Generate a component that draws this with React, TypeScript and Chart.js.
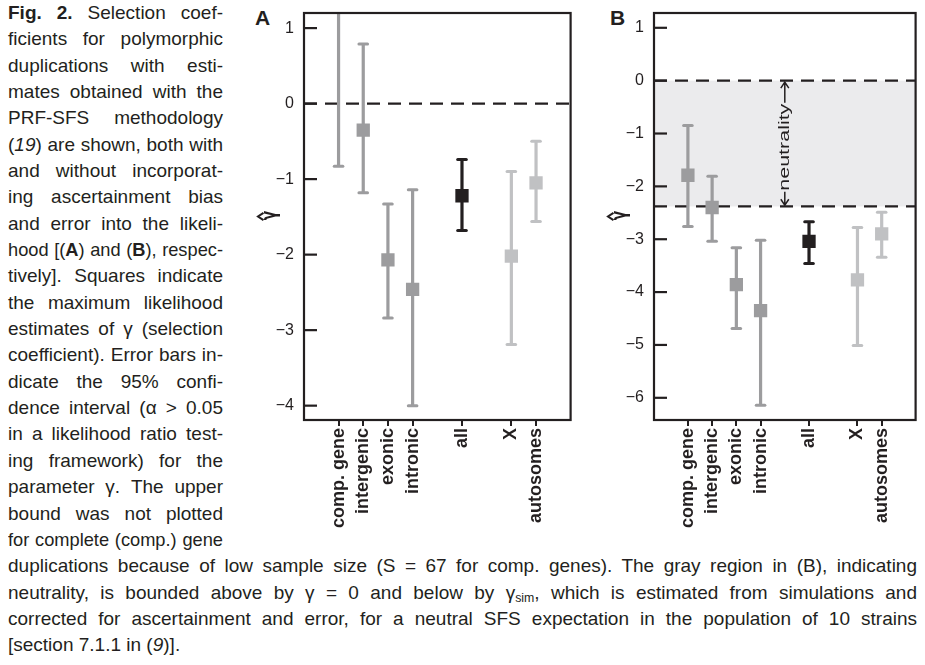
import React, { useEffect, useLayoutEffect, useRef } from 'react';
import { Chart, registerables } from 'chart.js';

Chart.register(...registerables);

// ---------- chart data ----------
const categories = ['comp. gene', 'intergenic', 'exonic', 'intronic', 'all', 'X', 'autosomes'];
const xPositions = [1, 2, 3, 4, 6, 8, 9];
const groupColors = ['#9c9c9e', '#9c9c9e', '#9c9c9e', '#9c9c9e', '#231f20', '#c0c1c3', '#c0c1c3'];

// Panel A (without ascertainment bias / error)
const estimateA: (number | null)[] = [null, -0.35, -2.07, -2.46, -1.22, -2.02, -1.05];
const lowerA = [-0.83, -1.18, -2.84, -4.0, -1.68, -3.19, -1.56];
const upperA: (number | null)[] = [null, 0.79, -1.33, -1.14, -0.74, -0.9, -0.5];
const yTicksA = [1, 0, -1, -2, -3, -4];
const yRangeA = [-4.19, 1.2];

// Panel B (with ascertainment bias / error)
const estimateB: (number | null)[] = [-1.79, -2.4, -3.86, -4.35, -3.04, -3.77, -2.9];
const lowerB = [-2.76, -3.04, -4.69, -6.14, -3.46, -5.01, -3.34];
const upperB: (number | null)[] = [-0.85, -1.81, -3.16, -3.02, -2.67, -2.78, -2.49];
const yTicksB = [1, 0, -1, -2, -3, -4, -5, -6];
const yRangeB = [-6.42, 1.28];
const gammaSim = -2.38;
const neutralityX = 5;

const xRange = [-0.4, 10.4];

const FONT = "'Liberation Sans', Arial, Helvetica, sans-serif";
const INK = '#231f20';

// ---------- caption ----------
type CapLine = { node: React.ReactNode; w: number; justify: boolean };
const LEFT_W = 215;
const FULL_W = 909;
const captionLines: CapLine[] = [
  { node: <><b>Fig. 2.</b> Selection coef-</>, w: LEFT_W, justify: true },
  { node: <>ficients for polymorphic</>, w: LEFT_W, justify: true },
  { node: <>duplications with esti-</>, w: LEFT_W, justify: true },
  { node: <>mates obtained with the</>, w: LEFT_W, justify: true },
  { node: <>PRF-SFS methodology</>, w: LEFT_W, justify: true },
  { node: <>(<i>19</i>) are shown, both with</>, w: LEFT_W, justify: true },
  { node: <>and without incorporat-</>, w: LEFT_W, justify: true },
  { node: <>ing ascertainment bias</>, w: LEFT_W, justify: true },
  { node: <>and error into the likeli-</>, w: LEFT_W, justify: true },
  { node: <>hood [(<b>A</b>) and (<b>B</b>), respec-</>, w: LEFT_W, justify: true },
  { node: <>tively]. Squares indicate</>, w: LEFT_W, justify: true },
  { node: <>the maximum likelihood</>, w: LEFT_W, justify: true },
  { node: <>estimates of γ (selection</>, w: LEFT_W, justify: true },
  { node: <>coefficient). Error bars in-</>, w: LEFT_W, justify: true },
  { node: <>dicate the 95% confi-</>, w: LEFT_W, justify: true },
  { node: <>dence interval (α &gt; 0.05</>, w: LEFT_W, justify: true },
  { node: <>in a likelihood ratio test-</>, w: LEFT_W, justify: true },
  { node: <>ing framework) for the</>, w: LEFT_W, justify: true },
  { node: <>parameter γ. The upper</>, w: LEFT_W, justify: true },
  { node: <>bound was not plotted</>, w: LEFT_W, justify: true },
  { node: <>for complete (comp.) gene</>, w: LEFT_W, justify: true },
  { node: <>duplications because of low sample size (S = 67 for comp. genes). The gray region in (B), indicating</>, w: FULL_W, justify: true },
  { node: <>neutrality, is bounded above by γ = 0 and below by γ<sub style={{ fontSize: '0.65em', verticalAlign: '-0.25em', lineHeight: 0 }}>sim</sub>, which is estimated from simulations and</>, w: FULL_W, justify: true },
  { node: <>corrected for ascertainment and error, for a neutral SFS expectation in the population of 10 strains</>, w: FULL_W, justify: true },
  { node: <>[section 7.1.1 in (<i>9</i>)].</>, w: FULL_W, justify: false },
];
const LINE_H = 26.35;

function Caption() {
  const refs = useRef<(HTMLDivElement | null)[]>([]);
  useLayoutEffect(() => {
    refs.current.forEach((el, i) => {
      if (!el) return;
      const spec = captionLines[i];
      el.style.transform = 'none';
      el.style.width = 'auto';
      el.style.display = 'inline-block';
      el.style.whiteSpace = 'nowrap';
      const nat = el.getBoundingClientRect().width;
      el.style.display = 'block';
      if (nat > spec.w) {
        el.style.width = nat + 2 + 'px';
        el.style.transform = `scaleX(${spec.w / (nat + 2)})`;
      } else {
        el.style.width = spec.w + 'px';
      }
      el.style.whiteSpace = 'normal';
    });
  }, []);
  return (
    <>
      {captionLines.map((l, i) => (
        <div
          key={i}
          ref={(el) => {
            refs.current[i] = el;
          }}
          style={{
            position: 'absolute',
            left: 8,
            top: -0.15 + LINE_H * i,
            height: LINE_H,
            lineHeight: LINE_H + 'px',
            fontFamily: FONT,
            fontSize: 19,
            color: INK,
            textAlign: l.justify ? 'justify' : 'left',
            textAlignLast: l.justify ? 'justify' : 'auto',
            transformOrigin: 'left top',
            whiteSpace: 'nowrap',
          }}
        >
          {l.node}
        </div>
      ))}
    </>
  );
}

// ---------- panel ----------
type PanelProps = {
  left: number;
  width: number;
  height: number;
  yWidth: number;
  padRight: number;
  estimate: (number | null)[];
  lower: number[];
  upper: (number | null)[];
  yTicks: number[];
  yRange: number[];
  dashes: number[];
  band: boolean;
};

const AREA_TOP = 13;
const AREA_BOTTOM = 420;

function makePlugin(p: PanelProps) {
  return {
    id: 'panelDeco',
    beforeDatasetsDraw(chart: any) {
      const { ctx, chartArea: ca, scales } = chart;
      const x = scales.x;
      const y = scales.y;
      ctx.save();
      ctx.beginPath();
      ctx.rect(ca.left, ca.top, ca.right - ca.left, ca.bottom - ca.top);
      ctx.clip();
      if (p.band) {
        const y0 = y.getPixelForValue(0);
        const y1 = y.getPixelForValue(gammaSim);
        ctx.fillStyle = '#ebebed';
        ctx.fillRect(ca.left, y0, ca.right - ca.left, y1 - y0);
      }
      ctx.strokeStyle = INK;
      ctx.lineWidth = 2.2;
      ctx.setLineDash([13, 8]);
      p.dashes.forEach((v) => {
        const yy = y.getPixelForValue(v);
        ctx.beginPath();
        ctx.moveTo(ca.left, yy);
        ctx.lineTo(ca.right, yy);
        ctx.stroke();
      });
      ctx.setLineDash([]);
      // error bars
      xPositions.forEach((xv, i) => {
        const xp = x.getPixelForValue(xv);
        const hi = p.upper[i];
        const top = hi === null ? ca.top : y.getPixelForValue(hi);
        const bot = y.getPixelForValue(p.lower[i]);
        ctx.strokeStyle = groupColors[i];
        ctx.lineWidth = 3.2;
        ctx.lineCap = 'butt';
        ctx.beginPath();
        ctx.moveTo(xp, top);
        ctx.lineTo(xp, bot);
        ctx.stroke();
        ctx.lineCap = 'round';
        ctx.lineWidth = 3;
        const caps = hi === null ? [bot] : [top, bot];
        caps.forEach((cy) => {
          ctx.beginPath();
          ctx.moveTo(xp - 4.3, cy);
          ctx.lineTo(xp + 4.3, cy);
          ctx.stroke();
        });
      });
      ctx.restore();
    },
    afterDraw(chart: any) {
      const { ctx, chartArea: ca, scales } = chart;
      const x = scales.x;
      const y = scales.y;
      ctx.save();
      ctx.strokeStyle = INK;
      ctx.lineWidth = 2.2;
      ctx.lineCap = 'butt';
      ctx.strokeRect(ca.left, ca.top, ca.right - ca.left, ca.bottom - ca.top);
      // inward y ticks
      p.yTicks.forEach((v) => {
        const yy = y.getPixelForValue(v);
        ctx.beginPath();
        ctx.moveTo(ca.left, yy);
        ctx.lineTo(ca.left + 13, yy);
        ctx.stroke();
      });
      // y title: gamma-hat, rotated
      const yc = (ca.top + ca.bottom) / 2;
      ctx.fillStyle = INK;
      ctx.save();
      ctx.translate(ca.left - 33, yc - 1);
      ctx.rotate(-Math.PI / 2);
      ctx.scale(1, 1.45);
      ctx.font = "bold 14px 'DejaVu Sans', sans-serif";
      ctx.textAlign = 'center';
      ctx.textBaseline = 'middle';
      ctx.fillText('\u03B3', 0, 0);
      ctx.restore();
      ctx.lineWidth = 2;
      ctx.lineJoin = 'miter';
      ctx.beginPath();
      ctx.moveTo(ca.left - 40.5, yc - 3.6);
      ctx.lineTo(ca.left - 46, yc);
      ctx.lineTo(ca.left - 40.5, yc + 3.6);
      ctx.stroke();
      // neutrality annotation
      if (p.band) {
        const xp = x.getPixelForValue(neutralityX);
        const y0 = y.getPixelForValue(0) + 1.5;
        const y1 = y.getPixelForValue(gammaSim) - 1.2;
        ctx.font = `14px ${FONT}`;
        const w = ctx.measureText('neutrality').width;
        const len = 87;
        const tTop = y0 + 21.5;
        const tBot = tTop + len;
        ctx.save();
        ctx.translate(xp + 0.5, (tTop + tBot) / 2);
        ctx.rotate(-Math.PI / 2);
        ctx.scale(len / w, 1);
        ctx.textAlign = 'center';
        ctx.textBaseline = 'middle';
        ctx.fillText('neutrality', 0, 0);
        ctx.restore();
        ctx.lineWidth = 1.5;
        ctx.beginPath();
        ctx.moveTo(xp, tTop - 1);
        ctx.lineTo(xp, y0);
        ctx.moveTo(xp - 4, y0 + 6);
        ctx.lineTo(xp, y0);
        ctx.lineTo(xp + 4, y0 + 6);
        ctx.moveTo(xp, tBot + 1);
        ctx.lineTo(xp, y1);
        ctx.moveTo(xp - 4, y1 - 6);
        ctx.lineTo(xp, y1);
        ctx.lineTo(xp + 4, y1 - 6);
        ctx.stroke();
      }
      ctx.restore();
    },
  };
}

function Panel(p: PanelProps) {
  const ref = useRef<HTMLCanvasElement>(null);
  useEffect(() => {
    if (!ref.current) return;
    const points: { x: number; y: number }[] = [];
    const colors: string[] = [];
    p.estimate.forEach((v, i) => {
      if (v !== null) {
        points.push({ x: xPositions[i], y: v });
        colors.push(groupColors[i]);
      }
    });
    const chart = new Chart(ref.current, {
      type: 'scatter',
      data: {
        datasets: [
          {
            data: points,
            pointStyle: 'rect',
            pointRadius: 9.4,
            pointHoverRadius: 9.4,
            backgroundColor: colors,
            borderWidth: 0,
          },
        ],
      },
      options: {
        responsive: false,
        animation: false,
        events: [],
        layout: { padding: { top: AREA_TOP, right: p.padRight, left: 0, bottom: 0 } },
        plugins: { legend: { display: false }, tooltip: { enabled: false } },
        scales: {
          x: {
            type: 'linear',
            min: xRange[0],
            max: xRange[1],
            afterBuildTicks: (s: any) => {
              s.ticks = xPositions.map((v) => ({ value: v }));
            },
            afterFit: (s: any) => {
              s.height = p.height - AREA_BOTTOM;
              s.paddingLeft = 0;
              s.paddingRight = 0;
              s.paddingTop = 0;
              s.paddingBottom = 0;
            },
            grid: {
              drawOnChartArea: false,
              drawTicks: true,
              tickLength: 6,
              color: INK,
              lineWidth: 2,
            },
            border: { display: false },
            ticks: {
              autoSkip: false,
              minRotation: 90,
              maxRotation: 90,
              padding: 2,
              color: INK,
              font: { family: FONT, size: 18, weight: 'bold' },
              callback: (v: any) => {
                const idx = xPositions.indexOf(Number(v));
                return idx >= 0 ? categories[idx] : '';
              },
            },
          },
          y: {
            type: 'linear',
            min: p.yRange[0],
            max: p.yRange[1],
            afterBuildTicks: (s: any) => {
              s.ticks = p.yTicks.map((v) => ({ value: v }));
            },
            afterFit: (s: any) => {
              s.width = p.yWidth;
              s.paddingTop = 0;
              s.paddingBottom = 0;
              s.paddingLeft = 0;
              s.paddingRight = 0;
            },
            grid: { display: false, drawTicks: false },
            border: { display: false },
            ticks: {
              padding: 10,
              color: INK,
              font: { family: FONT, size: 16 },
              callback: (v: any) => (Number(v) < 0 ? '\u2212' + Math.abs(Number(v)) : String(v)),
            },
          },
        },
      },
      plugins: [makePlugin(p)],
    } as any);
    return () => chart.destroy();
  }, []);
  return (
    <canvas
      ref={ref}
      width={p.width}
      height={p.height}
      style={{ position: 'absolute', left: p.left, top: 0, width: p.width, height: p.height }}
    />
  );
}

const letterStyle = (left: number): React.CSSProperties => ({
  position: 'absolute',
  left,
  top: 7,
  fontFamily: FONT,
  fontWeight: 'bold',
  fontSize: 21,
  lineHeight: '21px',
  color: INK,
});

export default function App() {
  return (
    <div
      style={{
        position: 'absolute',
        left: 0,
        top: 0,
        width: 925,
        height: 665,
        background: '#fff',
        overflow: 'hidden',
      }}
    >
      <Caption />
      <div style={letterStyle(255)}>A</div>
      <div style={letterStyle(610)}>B</div>
      <Panel
        left={220}
        width={360}
        height={545}
        yWidth={84}
        padRight={8}
        estimate={estimateA}
        lower={lowerA}
        upper={upperA}
        yTicks={yTicksA}
        yRange={yRangeA}
        dashes={[0]}
        band={false}
      />
      <Panel
        left={570}
        width={355}
        height={545}
        yWidth={84}
        padRight={2}
        estimate={estimateB}
        lower={lowerB}
        upper={upperB}
        yTicks={yTicksB}
        yRange={yRangeB}
        dashes={[0, gammaSim]}
        band={true}
      />
    </div>
  );
}
